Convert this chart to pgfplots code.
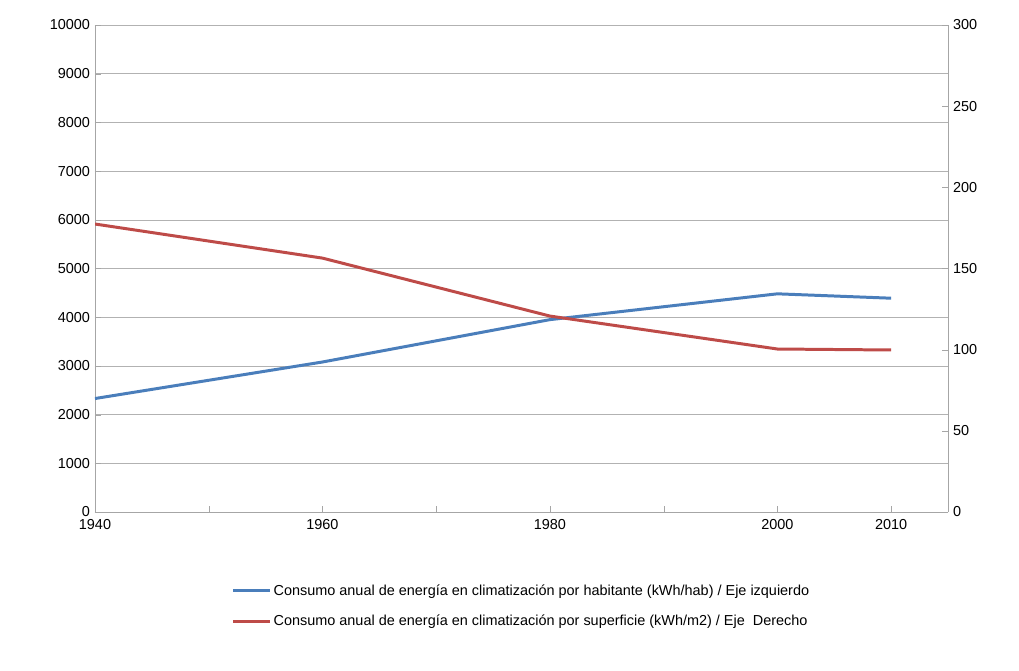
\documentclass[border=0pt]{standalone}
\usepackage{pgfplots}
\pgfplotsset{compat=1.18}
\usepackage{fontspec}
\setmainfont{Liberation Sans}
\definecolor{cblue}{HTML}{4A7EBB}
\definecolor{cred}{HTML}{BE4B48}
\begin{document}
\fontsize{14.5}{17}\selectfont
\begin{tikzpicture}
\begin{axis}[at={(0,0)},anchor=south west,scale only axis,width=853bp,height=487bp,
  xmin=1940,xmax=2015,ymin=0,ymax=10000,
  xtick={1940,1960,1980,2000,2010},
  minor xtick={1950,1970,1990},
  xticklabel style={/pgf/number format/1000 sep={}},
  ytick={0,1000,...,10000},
  scaled y ticks=false,
  yticklabel style={/pgf/number format/1000 sep={}},
  /pgf/number format/assume math mode=true,
  ymajorgrids, grid style={gray!60},
  axis line style={gray!70},
  tick style={gray!70},
  major tick length=6bp, minor tick length=6bp,
  xtick pos=bottom, ytick pos=left,
  axis y line*=left,
  axis x line*=bottom,
  tick label style={font=\fontsize{14.5}{17}\selectfont},
  xticklabel style={yshift=-2bp},
  legend style={at={(0.5,-0.14)},anchor=north,draw=none,fill=none,
    font=\fontsize{14.5}{17}\selectfont,row sep=14bp},
  legend cell align=left,
  legend image code/.code={\draw[#1,line width=3pt] (0,0) -- (1.3cm,0);},
  clip=false]
\addplot[cblue,line width=3pt] coordinates {(1940,2330)(1960,3080)(1980,3950)(2000,4480)(2010,4390)};
\addlegendentry{Consumo anual de energía en climatización por habitante (kWh/hab) / Eje izquierdo}
\addlegendimage{cred,line width=3pt}
\addlegendentry{Consumo anual de energía en climatización por superficie (kWh/m2) / Eje\ \ Derecho}
\end{axis}
\begin{axis}[at={(0,0)},anchor=south west,scale only axis,width=853bp,height=487bp,
  xmin=1940,xmax=2015,ymin=0,ymax=300,
  ytick={0,50,...,300},
  /pgf/number format/assume math mode=true,
  axis y line*=right, axis x line=none,
  axis line style={gray!70}, tick style={gray!70},
  major tick length=6bp, ytick pos=right,
  tick label style={font=\fontsize{14.5}{17}\selectfont}]
\addplot[cred,line width=3pt] coordinates {(1940,177.4)(1960,156.4)(1980,120.7)(2000,100.4)(2010,99.8)};
\end{axis}
\useasboundingbox (-95bp,-159bp) rectangle (924bp,512bp);
\end{tikzpicture}
\end{document}
